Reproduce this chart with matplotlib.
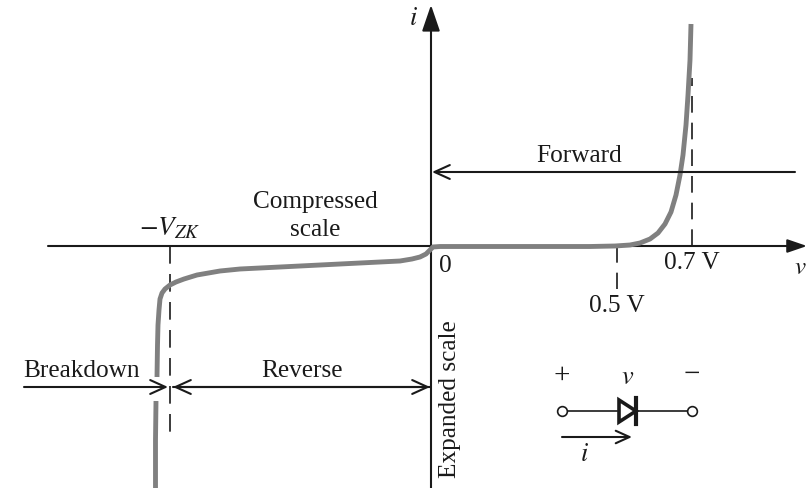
import matplotlib
matplotlib.use('Agg')
import matplotlib.pyplot as plt
from matplotlib.patches import Polygon

plt.rcParams['font.family'] = ['Liberation Serif']
plt.rcParams['mathtext.fontset'] = 'stix'

# Curve points, in pixels of the reference
breakdown_x = [155.5, 155.5, 156]
breakdown_y = [488, 440, 401]
curve_x = [157, 157.5, 158, 159, 160, 162, 165, 170, 176, 184, 197, 220, 240, 260, 300, 340, 380, 400, 412, 420, 426, 430, 433,
           440, 480, 540, 590, 615, 630, 640, 650, 658, 665, 671, 676, 680, 683, 686, 688, 690, 691]
curve_y = [377, 345, 325, 310, 299, 293, 289, 285, 282, 279, 275, 271, 269, 268, 266, 264, 262, 261, 259, 257, 254, 250, 247,
           246.5, 246.5, 246.5, 246.5, 246, 245, 243, 239, 233, 224, 212, 195, 175, 155, 125, 95, 60, 24]

FS = 18.2
LINE = '#1a1a1a'
CURVE = '#808080'
SOLID_HEAD = '-|>,head_length=0.7,head_width=0.24'
OPEN_HEAD = '->,head_length=0.55,head_width=0.25'

fig = plt.figure(figsize=(8.07, 4.88), dpi=100)
ax = fig.add_axes([0, 0, 1, 1])
ax.set_xlim(0, 807)
ax.set_ylim(488, 0)
ax.axis('off')


def arrow(x0, y0, x1, y1, style=OPEN_HEAD, lw=1.5, scale=20):
    ax.annotate('', xy=(x1, y1), xytext=(x0, y0),
                arrowprops=dict(arrowstyle=style, lw=lw, color=LINE, shrinkA=0, shrinkB=0,
                                mutation_scale=scale))


def label(x, y, s, **kw):
    ax.text(x, y, s, fontsize=kw.pop('fontsize', FS), ha=kw.pop('ha', 'center'), va='center', color=LINE, **kw)


# axes
arrow(48, 246, 807, 246, style=SOLID_HEAD, scale=17)
arrow(431, 488, 431, 5, style=SOLID_HEAD, scale=23)

# curve, broken where the breakdown arrow crosses it
ax.plot(breakdown_x, breakdown_y, color=CURVE, lw=3.5, solid_capstyle='butt', zorder=3)
ax.plot(curve_x, curve_y, color=CURVE, lw=3.5, solid_capstyle='butt', zorder=3)

# dashed guides
ax.plot([170, 170], [246, 432], color=LINE, lw=1.2, dashes=(10.6, 6.2))
ax.plot([617, 617], [246, 289], color=LINE, lw=1.2, dashes=(10, 6))
ax.plot([692, 692], [246, 78], color=LINE, lw=1.2, dashes=(10, 6), zorder=2)

# region arrows
arrow(795, 172, 432, 172)
arrow(24, 387, 168, 387)
arrow(430, 387, 173, 387)
arrow(173, 387, 430, 387)

# diode symbol
ax.plot([562, 617], [411, 411], color=LINE, lw=1.2)
ax.plot([637, 692], [411, 411], color=LINE, lw=1.2)
ax.plot([562], [411], 'o', mfc='white', mec=LINE, ms=7, mew=1.2, zorder=4)
ax.plot([692], [411], 'o', mfc='white', mec=LINE, ms=7, mew=1.2, zorder=4)
ax.add_patch(Polygon([(619, 400), (619, 422), (636, 411)], closed=True, fc='white', ec=LINE, lw=2.6, zorder=4))
ax.plot([636, 636], [398, 424], color=LINE, lw=3, zorder=4)
arrow(562, 437, 632, 437, scale=18)

# labels
label(579, 156, 'Forward')
label(315, 202, 'Compressed')
label(315, 230, 'scale')
label(170, 229, r'$-V_{ZK}$', fontsize=19.5)
label(445, 266, '0')
label(692, 263, '0.7 V')
label(617, 306, '0.5 V')
label(81, 371, 'Breakdown')
label(302, 371, 'Reverse')
label(450, 399, 'Expanded scale', rotation=90)
label(413, 19, r'$i$', fontsize=19)
label(800, 268, r'$v$', fontsize=18)
label(562, 376, '+', fontsize=21)
label(628, 378, r'$v$', fontsize=19)
label(692, 375, '\u2212', fontsize=21)
label(584, 455, r'$i$', fontsize=19)

fig.savefig('out.png', dpi=100)
